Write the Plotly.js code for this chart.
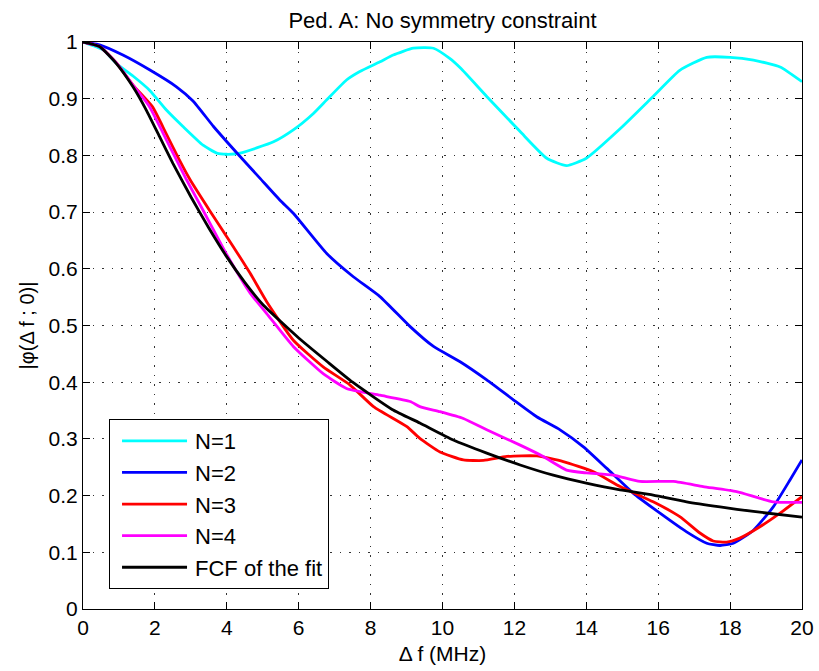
<!DOCTYPE html>
<html>
<head>
<meta charset="utf-8">
<script src="https://cdn.plot.ly/plotly-3.0.1.min.js"></script>
<style>html,body{margin:0;padding:0;background:#fff;}</style>
</head>
<body>
<div id="chart" style="width:819px;height:671px;"></div>
<script>
// Data
const n1X = [0, 0.56, 0.93, 1.39, 1.85, 2.32, 2.78, 3.34, 3.72, 4.0, 4.37, 5.3, 5.85, 6.41, 6.78, 7.33, 7.7, 8.26, 8.63, 9.19, 9.75, 10.2, 10.5, 11.23, 12.16, 12.9, 13.45, 14.0, 14.94, 15.86, 16.6, 17.35, 18.0, 18.65, 19.39, 20];
const n1Y = [1, 0.986, 0.962, 0.94, 0.915, 0.88, 0.851, 0.818, 0.804, 0.802, 0.804, 0.824, 0.845, 0.874, 0.898, 0.933, 0.948, 0.965, 0.977, 0.989, 0.989, 0.971, 0.954, 0.904, 0.842, 0.795, 0.782, 0.795, 0.847, 0.904, 0.95, 0.973, 0.973, 0.968, 0.956, 0.93];

const n2X = [0, 0.46, 1.11, 1.85, 2.6, 3.06, 3.63, 4.37, 4.92, 5.48, 5.85, 6.78, 7.52, 8.26, 9.1, 9.75, 10.49, 11.23, 11.97, 12.62, 13.27, 13.92, 14.57, 15.31, 16.05, 16.79, 17.35, 17.72, 18.09, 18.65, 19.2, 19.67, 20];
const n2Y = [1, 0.995, 0.977, 0.951, 0.921, 0.896, 0.851, 0.798, 0.76, 0.721, 0.698, 0.627, 0.586, 0.551, 0.498, 0.463, 0.436, 0.404, 0.369, 0.339, 0.316, 0.286, 0.248, 0.204, 0.169, 0.136, 0.116, 0.112, 0.116, 0.139, 0.18, 0.228, 0.263];

const n3X = [0, 0.46, 0.93, 1.39, 1.93, 2.31, 2.68, 2.98, 3.53, 4.18, 4.65, 5.11, 5.85, 6.68, 7.43, 8.08, 9.0, 9.37, 9.93, 10.58, 11.14, 11.79, 12.62, 13.36, 14.2, 14.94, 15.86, 16.6, 17.16, 17.53, 17.9, 18.27, 18.83, 19.39, 20];
const n3Y = [1, 0.992, 0.963, 0.924, 0.886, 0.839, 0.792, 0.757, 0.702, 0.639, 0.592, 0.542, 0.474, 0.427, 0.395, 0.357, 0.322, 0.301, 0.277, 0.263, 0.262, 0.269, 0.27, 0.26, 0.242, 0.216, 0.189, 0.163, 0.134, 0.12, 0.118, 0.125, 0.145, 0.169, 0.198];

const n4X = [0, 0.46, 0.93, 1.39, 1.85, 2.23, 2.6, 2.88, 3.35, 4.0, 4.65, 5.11, 5.85, 6.68, 7.33, 8.26, 9.1, 9.37, 9.93, 10.58, 11.23, 12.16, 12.8, 13.45, 14.0, 14.75, 15.49, 16.42, 17.25, 18.18, 19.2, 20];
const n4Y = [1, 0.992, 0.963, 0.924, 0.886, 0.839, 0.792, 0.757, 0.702, 0.625, 0.557, 0.521, 0.463, 0.415, 0.389, 0.377, 0.366, 0.357, 0.348, 0.336, 0.316, 0.289, 0.269, 0.245, 0.24, 0.236, 0.225, 0.225, 0.216, 0.207, 0.189, 0.188];

const fitX = [0, 0.46, 0.93, 1.39, 1.76, 2.13, 2.5, 3.0, 3.5, 4.0, 4.5, 5.0, 6.0, 6.78, 7.5, 8.6, 9.37, 10.3, 11.23, 12.16, 13.08, 14.0, 14.94, 15.86, 16.79, 17.72, 18.65, 20];
const fitY = [1, 0.992, 0.962, 0.921, 0.88, 0.833, 0.786, 0.727, 0.672, 0.621, 0.576, 0.537, 0.478, 0.437, 0.400, 0.352, 0.328, 0.298, 0.275, 0.254, 0.236, 0.222, 0.21, 0.201, 0.189, 0.18, 0.172, 0.162];

const seriesNames = ['N=1', 'N=2', 'N=3', 'N=4', 'FCF of the fit'];
const seriesColors = ['#00FFFF', '#0000FF', '#FF0000', '#FF00FF', '#000000'];
const xTicks = [0, 2, 4, 6, 8, 10, 12, 14, 16, 18, 20];
const yTicks = [0, 0.1, 0.2, 0.3, 0.4, 0.5, 0.6, 0.7, 0.8, 0.9, 1];
const yTickText = ['0', '0.1', '0.2', '0.3', '0.4', '0.5', '0.6', '0.7', '0.8', '0.9', '1'];

const xs = [n1X, n2X, n3X, n4X, fitX];
const ys = [n1Y, n2Y, n3Y, n4Y, fitY];

const FONT = '"Liberation Sans", Arial, Helvetica, sans-serif';

const traces = seriesNames.map((name, i) => ({
  x: xs[i], y: ys[i], name: name, type: 'scatter', mode: 'lines',
  line: {color: seriesColors[i], width: 2.8, shape: 'spline', smoothing: 0.5},
  legendgroup: 'g' + i
}));

const axisCommon = {
  showline: true, linecolor: '#000', linewidth: 1, mirror: 'allticks',
  ticks: 'inside', ticklen: 7, tickcolor: '#000', tickwidth: 1,
  showgrid: true, gridcolor: '#333', gridwidth: 1, griddash: '1.5px,8px',
  zeroline: false, tickfont: {family: FONT, size: 21, color: '#000'},
  automargin: false
};

const layout = {
  width: 819, height: 671,
  margin: {l: 83, r: 17, t: 42, b: 62},
  paper_bgcolor: '#fff', plot_bgcolor: '#fff',
  font: {family: FONT, color: '#000'},
  title: {text: 'Ped. A: No symmetry constraint', font: {family: FONT, size: 22, color: '#000'},
          x: 0.5, xref: 'paper', xanchor: 'center', y: 0.970, yref: 'container', yanchor: 'middle'},
  xaxis: Object.assign({}, axisCommon, {
    range: [0, 20], tickvals: xTicks, ticktext: xTicks.map(String),
    title: {text: 'Δ f (MHz)', font: {family: FONT, size: 21, color: '#000'}, standoff: 8}
  }),
  yaxis: Object.assign({}, axisCommon, {
    range: [0, 1], tickvals: yTicks, ticktext: yTickText,
    title: {text: '|φ(Δ f ; 0)|', font: {family: FONT, size: 20, color: '#000'}, standoff: 8}
  }),
  showlegend: true,
  legend: {
    x: 0.0362, y: 0.335, xanchor: 'left', yanchor: 'top',
    bgcolor: '#fff', bordercolor: '#000', borderwidth: 1,
    font: {family: FONT, size: 22, color: '#000'},
    traceorder: 'grouped', tracegroupgap: 0, itemwidth: 75
  }
};

Plotly.newPlot('chart', traces, layout, {displayModeBar: false, staticPlot: true}).then(function () {
  // lengthen the legend line samples to match the original legend
  document.querySelectorAll('#chart .legend .legendlines path').forEach(function (p) {
    p.setAttribute('d', 'M12,0h65');
  });
});
</script>
</body>
</html>
